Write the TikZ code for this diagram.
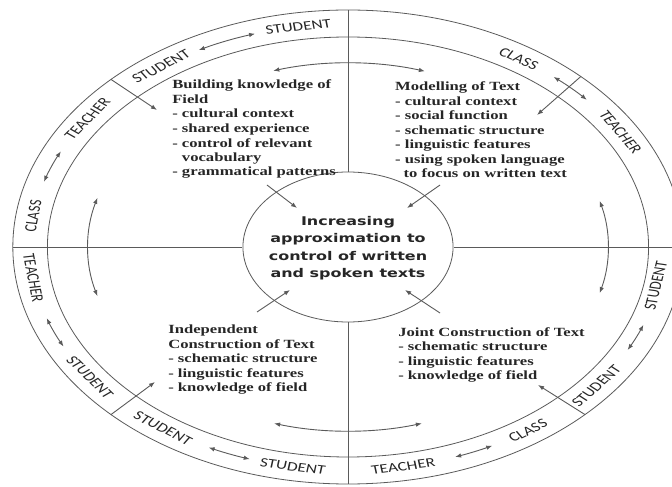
\documentclass[tikz,border=0pt]{standalone}
\usepackage{fontspec}
\setmainfont{Liberation Serif}
\newfontfamily\ringfont{Carlito}
\newfontfamily\hubfont{DejaVu Sans}
\usetikzlibrary{shapes.geometric,arrows.meta}
\definecolor{ringgray}{HTML}{5A5A5A}
\definecolor{inkgray}{HTML}{262626}

\begin{document}
\begin{tikzpicture}[xscale = 1.33, x = 1pt, y = 1pt]

    \tikzset{
      every node/.style={transform shape},
      ringtop/.style={
        font=\ringfont\fontsize{13}{13}\selectfont,
        color=inkgray,
        anchor=center,
        inner sep=0pt,
        rotate={atan2(-223*cos(#1),239*sin(#1))},
      },
      ringbot/.style={
        font=\ringfont\fontsize{13}{13}\selectfont,
        color=inkgray,
        anchor=center,
        inner sep=0pt,
        rotate={atan2(223*cos(#1),-239*sin(#1))},
      },
      stage/.style={
        font=\bfseries\fontsize{12.5}{14.5}\selectfont,
        color=inkgray,
        align=left,
        anchor=north west,
        inner sep=0pt,
      },
      twoway/.style={color=ringgray, line width=0.9, >={Latex[length=6pt,width=4.5pt]}, <->},
      pointer/.style={color=ringgray, line width=0.9, >={Latex[length=6pt,width=4.5pt]}, ->},
    }
    \useasboundingbox (-261.65,-240) rectangle (243.61,247);
    \clip (-261.65,-240) rectangle (243.61,247);

	% ring
	\draw[color ={ringgray},line width = 0.8] (0,0) ellipse [x radius = 252, y radius = 237];
	\draw[color ={ringgray},line width = 0.8] (0,0) ellipse [x radius = 226, y radius = 210];

	% hub
	\node[ellipse, draw = ringgray, line width = 0.8, minimum width = 158pt, minimum height = 150pt, inner sep = 0pt] (hub) at (0,0) {};
	\node[font = \hubfont\bfseries\fontsize{12}{17.5}\selectfont, align = center, color = inkgray] (hubtext) at (0,-1) {Increasing\\approximation to\\control of written\\and spoken texts};

	% quadrant lines
	\draw[color ={ringgray},line width = 0.8] (hub.north)--(90:252 and 237);
	\draw[color ={ringgray},line width = 0.8] (hub.south)--(270:252 and 237);
	\draw[color ={ringgray},line width = 0.8] (hub.west)--(180:252 and 237);
	\draw[color ={ringgray},line width = 0.8] (hub.east)--(0:252 and 237);

	% stages
	\draw (-132.3,167) node[stage] (field) {Building knowledge of\\Field\\- cultural context\\- shared experience\\- control of relevant\\\phantom{- }vocabulary\\- grammatical patterns};
	\draw (35.3,165) node[stage] (model) {Modelling of Text\\- cultural context\\- social function\\- schematic structure\\- linguistic features\\- using spoken language\\\phantom{-}\,to focus on written text};
	\draw (-135.3,-78) node[stage] (indep) {Independent\\Construction of Text\\- schematic structure\\- linguistic features\\- knowledge of field};
	\draw (37.6,-80) node[stage] (joint) {Joint Construction of Text\\- schematic structure\\- linguistic features\\- knowledge of field};

	% ring labels
	\draw (99:239 and 223) node[ringtop = 99] (stutop) {STUDENT};
	\draw (126:239 and 223) node[ringtop = 126] (stuleft) {STUDENT};
	\draw (145:239 and 223) node[ringtop = 145] (teaupleft) {TEACHER};
	\draw (172:239 and 223) node[ringtop = 172] (claupleft) {CLASS};
	\draw (57.5:239 and 223) node[ringtop = 57.5] (claupright) {CLASS};
	\draw (31:239 and 223) node[ringtop = 31] (teaupright) {TEACHER};
	\draw (188:239 and 223) node[ringbot = 188] (tealowleft) {TEACHER};
	\draw (215.7:239 and 223) node[ringbot = 215.7] (stulowleft) {STUDENT};
	\draw (234.4:239 and 223) node[ringbot = 234.4] (stubotleft) {STUDENT};
	\draw (260:239 and 223) node[ringbot = 260] (stubot) {STUDENT};
	\draw (280:239 and 223) node[ringbot = 280] (teabot) {TEACHER};
	\draw (304.5:239 and 223) node[ringbot = 304.5] (clabotright) {CLASS};
	\draw (321.4:239 and 223) node[ringbot = 321.4] (stubotright) {STUDENT};
	\draw (350:235 and 223) node[ringbot = 350] (stulowright) {STUDENT};

	% ring arrows
	\draw[twoway] (107:239 and 223) arc[start angle = 107, end angle = 118, x radius = 239, y radius = 223];
	\draw[twoway] (154.6:239 and 223) arc[start angle = 154.6, end angle = 163, x radius = 239, y radius = 223];
	\draw[twoway] (41.3:239 and 223) arc[start angle = 41.3, end angle = 49.7, x radius = 239, y radius = 223];
	\draw[twoway] (198.6:239 and 223) arc[start angle = 198.6, end angle = 206.5, x radius = 239, y radius = 223];
	\draw[twoway] (244:239 and 223) arc[start angle = 244, end angle = 252, x radius = 239, y radius = 223];
	\draw[twoway] (289.7:239 and 223) arc[start angle = 289.7, end angle = 297, x radius = 239, y radius = 223];
	\draw[twoway] (332.5:237 and 223) arc[start angle = 332.5, end angle = 339.6, x radius = 237, y radius = 223];

	% cycle arrows
	\draw[twoway] (72.8:195.5 and 184) arc[start angle = 72.8, end angle = 106.7, x radius = 195.5, y radius = 184];
	\draw[twoway] (164.5:195.5 and 184) arc[start angle = 164.5, end angle = 195.5, x radius = 195.5, y radius = 184];
	\draw[twoway] (-14.5:195.5 and 184) arc[start angle = -14.5, end angle = 14.5, x radius = 195.5, y radius = 184];
	\draw[twoway] (253.5:195.5 and 184) arc[start angle = 253.5, end angle = 286.5, x radius = 195.5, y radius = 184];

	% dividers into the stages
	\coordinate (fieldtip) at (-143.6,137);
	\coordinate (modeltip) at (142.1,132);
	\coordinate (indeptip) at (-145.1,-135);
	\coordinate (jointtip) at (142.9,-138);
	\draw[pointer] (135:252 and 237)--(fieldtip);
	\draw[pointer] (46:252 and 237)--(modeltip);
	\draw[pointer] (225:252 and 237)--(indeptip);
	\draw[pointer] (315:252 and 237)--(jointtip);

	% stages into the hub
	\coordinate (fieldout) at (-60.9,62);
	\coordinate (fieldin) at (-38.3,39);
	\coordinate (modelout) at (69.2,62);
	\coordinate (modelin) at (44.4,39);
	\coordinate (indepout) at (-68.4,-65);
	\coordinate (indepin) at (-43.6,-43);
	\coordinate (jointout) at (69.2,-66);
	\coordinate (jointin) at (42.9,-43);
	\draw[pointer] (fieldout)--(fieldin);
	\draw[pointer] (modelout)--(modelin);
	\draw[pointer] (indepout)--(indepin);
	\draw[pointer] (jointout)--(jointin);

\end{tikzpicture}
\end{document}
